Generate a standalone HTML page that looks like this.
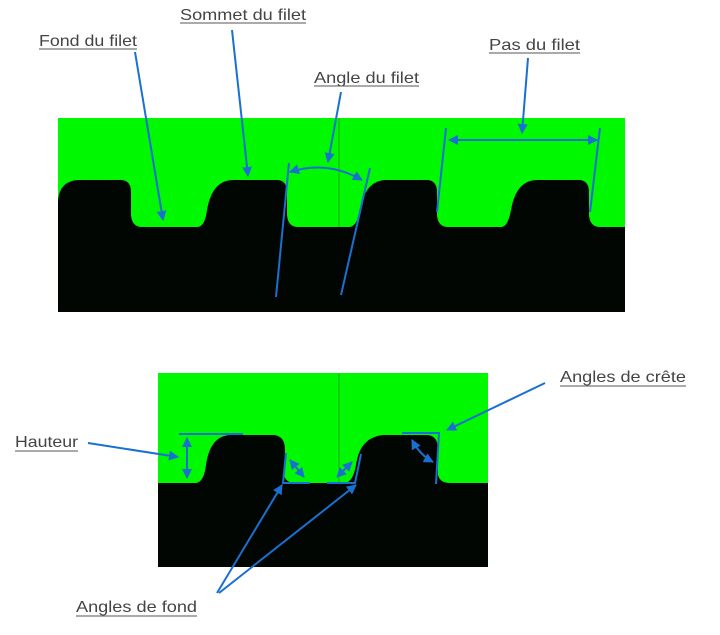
<!DOCTYPE html>
<html><head><meta charset="utf-8"><style>
html,body{margin:0;padding:0;background:#fff;width:720px;height:635px;overflow:hidden}
svg{display:block}
text{font-family:"Liberation Sans",sans-serif;font-size:16px;fill:#444}
</style></head><body>
<svg width="720" height="635" viewBox="0 0 720 635" xmlns="http://www.w3.org/2000/svg">
<defs>
<marker id="a" viewBox="0 0 10 10" refX="9" refY="5" markerWidth="5" markerHeight="5" orient="auto-start-reverse"><path d="M0,0 L10,5 L0,10 z" fill="#1a70d0"/></marker>
</defs>
<rect x="58" y="118" width="567" height="194" fill="#00f800"/>
<path d="M58,312 L58,200 Q60,181 78,180 L122,180 Q131,181 131,192 L131,215 Q132,227 142,227 L198,227 Q205,226 207,210 Q212,181 232,180 L278,180 Q287,181 287,192 L287,215 Q288,227 298,227 L350,227 Q357,226 360,210 Q365,181 385,180 L428,180 Q437,181 437,192 L437,215 Q438,227 448,227 L502,227 Q508,226 511,210 Q516,181 536,180 L580,180 Q589,181 589,192 L589,215 Q590,227 600,227 L625,227 L625,312 Z" fill="#020602"/>
<line x1="339" y1="118" x2="339" y2="227" stroke="#3a7a3a" stroke-width="0.6"/>
<g stroke="#1a70d0" stroke-width="2" fill="none">
<line x1="289" y1="163" x2="276" y2="297"/>
<line x1="370" y1="168" x2="341" y2="295"/>
<path d="M290,172 Q327,160 362,180" marker-start="url(#a)" marker-end="url(#a)"/>
<line x1="446" y1="128" x2="437" y2="212"/>
<line x1="600" y1="128" x2="590" y2="212"/>
<line x1="449" y1="140" x2="597" y2="140" marker-start="url(#a)" marker-end="url(#a)"/>
<line x1="135" y1="52" x2="163" y2="220" marker-end="url(#a)"/>
<line x1="232" y1="30" x2="248" y2="176" marker-end="url(#a)"/>
<line x1="341" y1="92" x2="328" y2="162" marker-end="url(#a)"/>
<line x1="528" y1="58" x2="522" y2="133" marker-end="url(#a)"/>
</g>
<text x="39" y="46" textLength="98" lengthAdjust="spacingAndGlyphs">Fond du filet</text><line x1="39" y1="49" x2="137" y2="49" stroke="#555"/>
<text x="180" y="20" textLength="126" lengthAdjust="spacingAndGlyphs">Sommet du filet</text><line x1="180" y1="23" x2="306" y2="23" stroke="#555"/>
<text x="314" y="83" textLength="105" lengthAdjust="spacingAndGlyphs">Angle du filet</text><line x1="314" y1="86" x2="419" y2="86" stroke="#555"/>
<text x="489" y="50" textLength="91" lengthAdjust="spacingAndGlyphs">Pas du filet</text><line x1="489" y1="53" x2="580" y2="53" stroke="#555"/>
<rect x="158" y="373" width="330" height="194" fill="#00f800"/>
<path d="M158,567 L158,483 L196,483 Q204,482 206,465 Q210,436 230,435 L274,435 Q285,436 285,450 L284,475 Q286,483 295,483 L345,483 Q353,482 356,465 Q360,436 385,435 L428,435 Q438,436 438,450 L438,475 Q440,483 450,483 L488,483 L488,567 Z" fill="#020602"/>
<line x1="339" y1="373" x2="339" y2="483" stroke="#3a7a3a" stroke-width="0.6"/>
<g stroke="#1a70d0" stroke-width="2" fill="none">
<line x1="179" y1="434" x2="243" y2="434"/>
<line x1="187" y1="438" x2="187" y2="478" marker-start="url(#a)" marker-end="url(#a)"/>
<line x1="88" y1="443" x2="178" y2="457" marker-end="url(#a)"/>
<polyline points="286,453 283,483 310,483"/>
<line x1="290" y1="460" x2="304" y2="477" marker-start="url(#a)" marker-end="url(#a)"/>
<polyline points="327,483 355,483 361,454"/>
<line x1="337" y1="477" x2="352" y2="462" marker-start="url(#a)" marker-end="url(#a)"/>
<polyline points="402,433 439,433 436,484"/>
<path d="M412,440 Q420,455 433,462" marker-start="url(#a)" marker-end="url(#a)"/>
<line x1="545" y1="383" x2="447" y2="430" marker-end="url(#a)"/>
<line x1="217" y1="593" x2="282" y2="485" marker-end="url(#a)"/>
<line x1="219" y1="593" x2="356" y2="485" marker-end="url(#a)"/>
</g>
<text x="15" y="447" textLength="63" lengthAdjust="spacingAndGlyphs">Hauteur</text><line x1="15" y1="451" x2="78" y2="451" stroke="#555"/>
<text x="560" y="382" textLength="126" lengthAdjust="spacingAndGlyphs">Angles de crête</text><line x1="560" y1="386" x2="686" y2="386" stroke="#555"/>
<text x="76" y="612" textLength="121" lengthAdjust="spacingAndGlyphs">Angles de fond</text><line x1="76" y1="616" x2="197" y2="616" stroke="#555"/>
</svg>
</body></html>
